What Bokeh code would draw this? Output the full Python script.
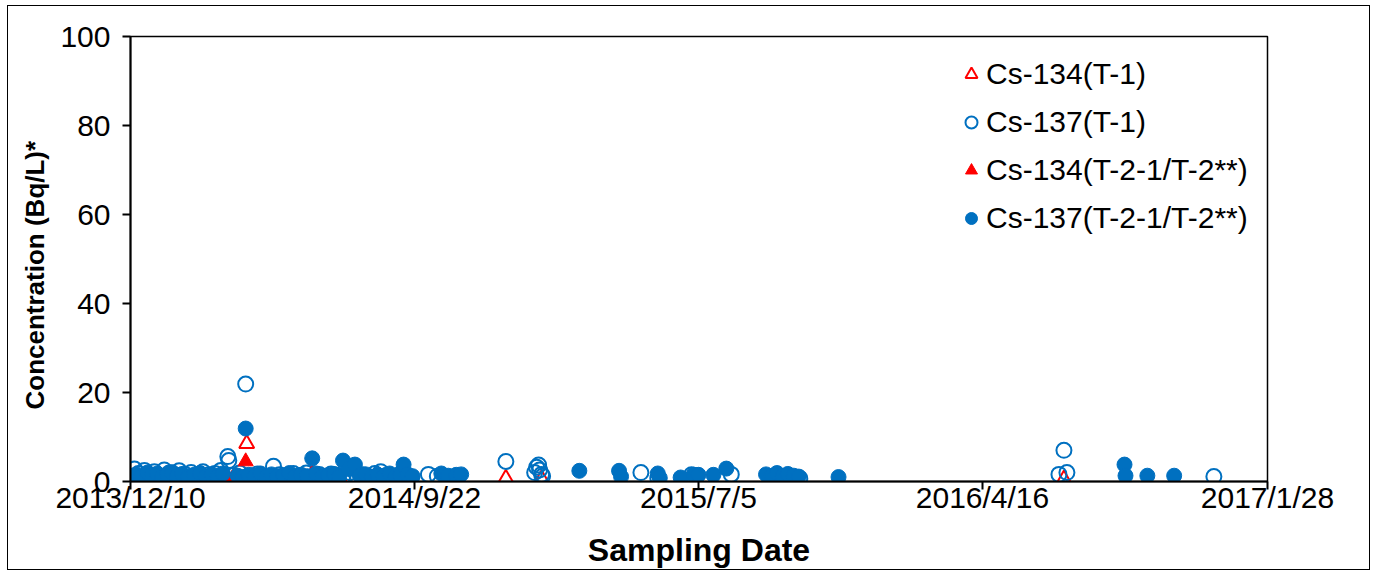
import numpy as np
from bokeh.plotting import figure
from bokeh.models import Range1d, FixedTicker, Legend, LegendItem, Title
from bokeh.embed import file_html
from bokeh.resources import INLINE

# ---------------- data ----------------
t1_cs137_dates = [
    "2013-12-10", "2013-12-14", "2013-12-18", "2013-12-24", "2013-12-29", "2014-01-03",
    "2014-01-08", "2014-01-13", "2014-01-18", "2014-01-23", "2014-01-28", "2014-02-03",
    "2014-02-09", "2014-02-15", "2014-02-21", "2014-02-27", "2014-03-05", "2014-03-11",
    "2014-03-18", "2014-03-19", "2014-03-24", "2014-03-30", "2014-04-05", "2014-04-11",
    "2014-04-17", "2014-04-23", "2014-05-03", "2014-05-09", "2014-05-16", "2014-05-23",
    "2014-05-29", "2014-06-05", "2014-06-12", "2014-06-18", "2014-06-24", "2014-06-30",
    "2014-07-06", "2014-07-12", "2014-07-19", "2014-07-26", "2014-08-01", "2014-08-07",
    "2014-08-13", "2014-08-19", "2014-08-25", "2014-08-31", "2014-09-07", "2014-09-13",
    "2014-09-19", "2014-10-06", "2014-10-15", "2014-10-25", "2014-11-01", "2014-12-23",
    "2015-01-21", "2015-01-23", "2015-01-25", "2015-01-26", "2015-01-28", "2015-01-29",
    "2015-05-08", "2015-05-25", "2015-06-28", "2015-07-03", "2015-08-07", "2015-10-15",
    "2016-07-02", "2016-07-07", "2016-07-10", "2016-12-05",
]
t1_cs137_values = [
    1.2, 2.8, 1.8, 2.5, 1.5, 2.2,
    1.0, 2.6, 1.9, 1.3, 2.4, 1.6,
    2.0, 1.2, 2.2, 1.5, 1.8, 2.5,
    5.6, 4.7, 1.4, 1.9, 21.9, 1.3,
    1.7, 1.2, 3.4, 1.5, 1.1, 1.8,
    1.3, 1.9, 1.2, 1.6, 1.0, 1.7,
    1.4, 1.1, 2.0, 1.3, 1.5, 1.0,
    1.8, 2.2, 1.4, 1.1, 1.6, 1.3,
    0.9, 1.6, 1.2, 1.0, 0.8, 4.5,
    2.0, 3.2, 3.7, 2.6, 1.6, 1.2,
    2.0, 0.8, 1.5, 1.3, 1.6, 0.7,
    1.6, 7.0, 2.0, 1.1,
]

t2_cs137_dates = [
    "2013-12-11", "2013-12-16", "2013-12-21", "2013-12-27", "2014-01-01", "2014-01-06",
    "2014-01-11", "2014-01-16", "2014-01-21", "2014-01-26", "2014-01-31", "2014-02-06",
    "2014-02-12", "2014-02-18", "2014-02-24", "2014-03-02", "2014-03-08", "2014-03-13",
    "2014-03-28", "2014-04-02", "2014-04-05", "2014-04-08", "2014-04-14", "2014-04-20",
    "2014-04-26", "2014-05-01", "2014-05-07", "2014-05-13", "2014-05-19", "2014-05-25",
    "2014-05-31", "2014-06-06", "2014-06-11", "2014-06-15", "2014-06-21", "2014-06-27",
    "2014-07-03", "2014-07-08", "2014-07-12", "2014-07-18", "2014-07-24", "2014-07-29",
    "2014-08-04", "2014-08-10", "2014-08-16", "2014-08-22", "2014-08-28", "2014-09-03",
    "2014-09-08", "2014-09-11", "2014-09-15", "2014-09-20", "2014-10-19", "2014-10-26",
    "2014-11-03", "2014-11-08", "2015-03-07", "2015-04-16", "2015-04-18", "2015-05-25",
    "2015-05-27", "2015-06-17", "2015-06-30", "2015-07-05", "2015-07-20", "2015-08-02",
    "2015-09-11", "2015-09-17", "2015-09-22", "2015-09-28", "2015-10-03", "2015-10-09",
    "2015-10-14", "2015-11-23", "2016-09-06", "2016-09-07", "2016-09-29", "2016-10-26",
]
t2_cs137_values = [
    0.8, 1.6, 1.1, 2.0, 1.4, 1.8,
    1.0, 1.5, 2.1, 1.2, 1.7, 1.0,
    1.5, 1.9, 1.1, 1.6, 1.2, 1.8,
    1.3, 1.0, 11.9, 1.5, 1.2, 1.8,
    1.1, 1.6, 1.2, 1.4, 1.9, 1.1,
    1.5, 1.2, 5.2, 1.8, 1.1, 1.4,
    1.7, 1.0, 4.7, 2.8, 3.8, 1.3,
    1.6, 1.1, 1.5, 1.2, 1.8, 1.0,
    1.5, 3.8, 1.6, 1.2, 1.8, 1.3,
    1.5, 1.6, 2.4, 2.4, 1.1, 1.8,
    0.8, 0.9, 1.5, 1.5, 1.5, 2.9,
    1.6, 1.3, 1.9, 1.2, 1.7, 1.3,
    1.1, 1.0, 3.8, 1.3, 1.3, 1.3,
]

t1_cs134_dates = [
    "2013-12-31", "2014-01-10", "2014-02-20", "2014-04-06", "2014-05-11",
    "2014-07-10", "2014-08-28", "2014-12-23", "2015-01-28", "2016-07-07",
]
t1_cs134_values = [0.5, 0.2, 0.4, 8.5, 0.3, 0.2, 0.2, 0.7, 0.6, 0.5]

t2_cs134_dates = [
    "2014-01-25", "2014-03-22", "2014-04-05", "2014-06-11",
    "2014-07-10", "2014-07-31", "2014-08-28",
]
t2_cs134_values = [0.4, 0.5, 4.5, 1.8, 0.3, 0.3, 0.2]

tick_dates = ["2013-12-10", "2014-09-22", "2015-07-05", "2016-04-16", "2017-01-28"]
tick_labels = ["2013/12/10", "2014/9/22", "2015/7/5", "2016/4/16", "2017/1/28"]

series_labels = ["Cs-134(T-1)", "Cs-137(T-1)", "Cs-134(T-2-1/T-2**)", "Cs-137(T-2-1/T-2**)"]
x_title = "Sampling Date"
y_title = "Concentration (Bq/L)*"


def to_ms(dates):
    return np.array(dates, dtype="datetime64[ms]").astype("int64").astype(float)


BLUE = "#0070C0"
RED = "#FF0000"
FONT = "Liberation Sans"

tick_ms = to_ms(tick_dates)

OX, OY = 7, 5              # outer frame offset on the page
W, H = 1370 - OX, 570 - OY
FL, FT, FR, FB = 129, 35, 1266, 480   # plot-area edges on the page

p = figure(
    width=W, height=H,
    output_backend="svg", toolbar_location=None,
    x_range=Range1d(tick_ms[0], tick_ms[-1]),
    y_range=Range1d(0, 100),
    min_border_left=FL - OX, min_border_right=W - (FR - OX),
    min_border_top=FT - OY, min_border_bottom=H - (FB - OY),
)
p.styles = {"border": "1.5px solid #000000", "box-sizing": "border-box",
            "margin-left": f"{OX}px", "margin-top": f"{OY}px"}
p.background_fill_color = "white"
p.border_fill_color = "white"
p.outline_line_color = "black"
p.outline_line_width = 1.5
p.xgrid.visible = False
p.ygrid.visible = False

r1 = p.scatter(to_ms(t1_cs134_dates), t1_cs134_values, marker="triangle", size=15,
               line_color=RED, fill_alpha=0, line_width=2)
r2 = p.scatter(to_ms(t1_cs137_dates), t1_cs137_values, marker="circle", size=15,
               line_color=BLUE, fill_alpha=0, line_width=2)
r3 = p.scatter(to_ms(t2_cs134_dates), t2_cs134_values, marker="triangle", size=15,
               line_color=RED, fill_color=RED, line_width=1)
r4 = p.scatter(to_ms(t2_cs137_dates), t2_cs137_values, marker="circle", size=15,
               line_color=BLUE, fill_color=BLUE, line_width=1)

# axes
xa = p.xaxis[0]
xa.ticker = FixedTicker(ticks=list(tick_ms))
xa.major_label_overrides = {float(t): lab for t, lab in zip(tick_ms, tick_labels)}
xa.axis_label = x_title
ya = p.yaxis[0]
ya.ticker = FixedTicker(ticks=[0, 20, 40, 60, 80, 100])

for ax in (xa, ya):
    ax.axis_line_color = "black"
    ax.axis_line_width = 2
    ax.major_tick_line_color = "black"
    ax.major_tick_line_width = 2
    ax.major_tick_in = 0
    ax.major_tick_out = 8
    ax.minor_tick_line_color = None
    ax.major_label_text_font = FONT
    ax.major_label_text_font_size = "30px"
    ax.major_label_text_color = "black"
    ax.axis_label_text_font = FONT
    ax.axis_label_text_font_style = "bold"
    ax.axis_label_text_color = "black"

xa.axis_label_text_font_size = "32px"
xa.major_label_standoff = -9
xa.axis_label_standoff = 15
ya.major_label_standoff = 12

# y-axis title as a side title, anchored at the bottom and shifted up to match the reference
ytitle = Title(text=y_title, align="left", offset=72, standoff=15,
               text_font=FONT, text_font_size="26px", text_font_style="bold",
               text_color="black")
p.add_layout(ytitle, "left")

legend = Legend(
    items=[LegendItem(label=series_labels[i], renderers=[r]) for i, r in enumerate([r1, r2, r3, r4])],
    location=(826, 246),
    orientation="vertical",
    label_text_font=FONT,
    label_text_font_size="30px",
    label_text_color="black",
    glyph_width=30, glyph_height=30, label_height=30,
    spacing=14, padding=0, margin=0, label_standoff=0,
    border_line_color=None, background_fill_alpha=0,
)
p.add_layout(legend, "center")

open("out.html", "w").write(file_html(p, INLINE))
